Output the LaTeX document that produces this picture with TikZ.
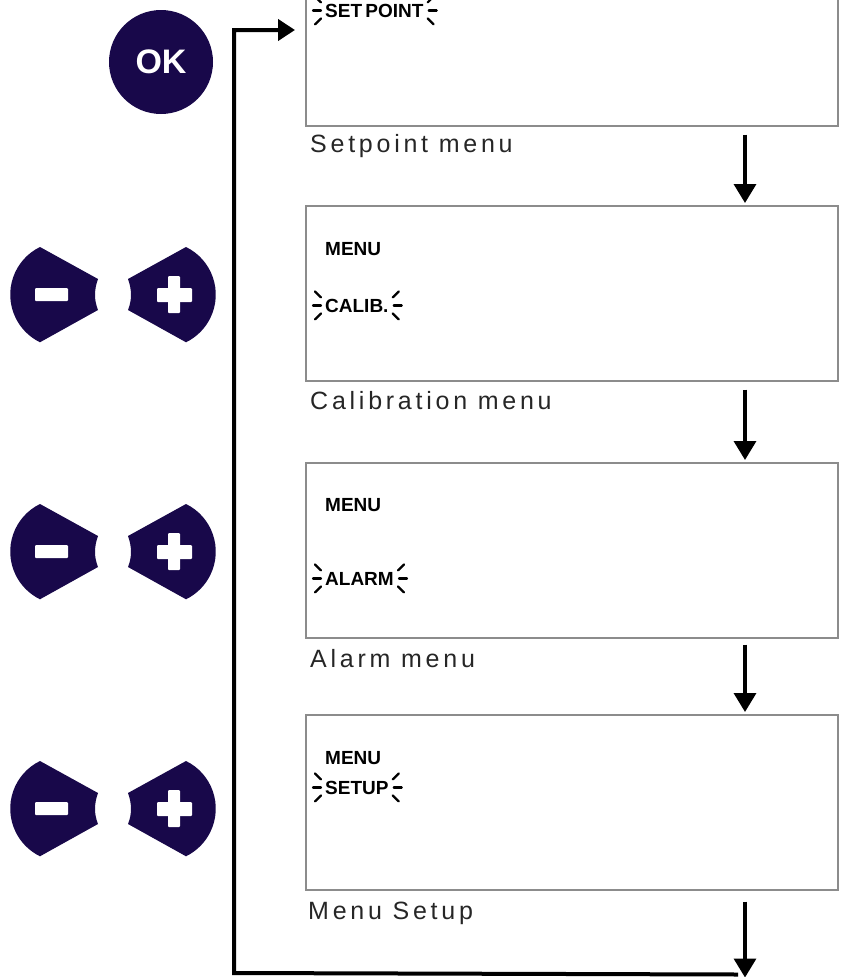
\documentclass[tikz,border=0pt]{standalone}
\usepackage{fontspec}
\setmainfont{Liberation Sans}
\newfontfamily\menufont[LetterSpace=15]{Liberation Sans}
\usetikzlibrary{arrows.meta}
\definecolor{keyblue}{RGB}{24,8,74}
\begin{document}
\begin{tikzpicture}%
	[x=1pt, y=-1pt,
	screen/.style={draw=black!45, line width=1.5pt, minimum width=532pt, minimum height=175pt, inner sep=0pt, anchor=north west},
	lcd/.style={font=\fontsize{19}{21}\selectfont\bfseries, inner sep=0pt, anchor=base west},
	caption/.style={font=\menufont\fontsize{25}{30}\selectfont, text=black!85, inner sep=0pt, anchor=base west},
	ray/.style={line width=2.2pt, line cap=round},
	flow/.style={line width=3.5pt, -{Triangle[width=22pt,length=19pt]}},
	loopline/.style={line width=4pt, -{Triangle[width=21pt,length=17pt]}},
	key/.style={fill=keyblue},
	glyph/.style={fill=white, rounded corners=1pt}]
	%
	\useasboundingbox (0,0) rectangle (843,977);
	%%
	%% Drawing the screens
	%%
	\node[screen] (box1) at (305,-50) {};
	\node[screen] (box2) at (305,205) {};
	\node[screen] (box3) at (305,462) {};
	\node[screen] (box4) at (305,714) {};
	%%
	%% Texts on the screens
	%%
	\node[lcd] (setpt) at (325,17) {SET\hspace{-2pt} POINT};
	\node[lcd] (menu2) at (325,255) {MENU};
	\node[lcd] (calib) at (325,312) {CALIB.};
	\node[lcd] (menu3) at (325,511) {MENU};
	\node[lcd] (alarm) at (325,585) {ALARM};
	\node[lcd] (menu4) at (325,764) {MENU};
	\node[lcd] (setup) at (325,794) {SETUP};
	%%
	%% Blinking marks
	%%
	\foreach \n in {setpt,calib,alarm,setup}{
		\draw[ray] ([xshift=-4pt]\n.west) -- ++(-8,0);
		\draw[ray] ([xshift=-4pt,yshift=8pt]\n.west) -- ++(-6,-6);
		\draw[ray] ([xshift=-4pt,yshift=-8pt]\n.west) -- ++(-6,6);
		\draw[ray] ([xshift=5pt]\n.east) -- ++(8,0);
		\draw[ray] ([xshift=4pt,yshift=8pt]\n.east) -- ++(6,-6);
		\draw[ray] ([xshift=4pt,yshift=-8pt]\n.east) -- ++(6,6);
	}
	%%
	%% Captions
	%%
	\node[caption] (cap1) at ([xshift=5pt,yshift=-26pt]box1.south west) {Setpoint menu};
	\node[caption] (cap2) at ([xshift=5pt,yshift=-28pt]box2.south west) {Calibration menu};
	\node[caption] (cap3) at ([xshift=5pt,yshift=-29pt]box3.south west) {Alarm menu};
	\node[caption] (cap4) at ([xshift=3pt,yshift=-29pt]box4.south west) {Menu Setup};
	%%
	%% Arrows between the screens
	%%
	\draw[flow] ([xshift=440pt,yshift=-8pt]box1.south west) -- ([xshift=440pt,yshift=2pt]box2.north west);
	\draw[flow] ([xshift=440pt,yshift=-8pt]box2.south west) -- ([xshift=440pt,yshift=2pt]box3.north west);
	\draw[flow] ([xshift=440pt,yshift=-6pt]box3.south west) -- ([xshift=440pt,yshift=2pt]box4.north west);
	\draw[flow] ([xshift=440pt,yshift=-11pt]box4.south west) -- ++(0,76);
	%%
	%% Going back to the first screen
	%%
	\coordinate (corner) at (234,973);
	\draw[loopline] ([xshift=433pt,yshift=-84pt]box4.south west) -- (corner) |- ([xshift=-10pt,yshift=-80pt]box1.north west);
	%%
	%% Drawing the keys
	%%
	\node[circle, fill=keyblue, minimum size=104pt, inner sep=0pt, text=white, font=\fontsize{34}{34}\selectfont\bfseries] (ok) at (161,62) {OK};
	\foreach \yc in {295,552,809}{
		\fill[key] (40,\yc-48) arc[start angle=244, end angle=116, radius=53] -- (98,\yc+15) .. controls (94,\yc+5) and (94,\yc-5) .. (98,\yc-16) -- cycle;
		\fill[key] (186,\yc-48) arc[start angle=-64, end angle=64, radius=53] -- (128,\yc+15) .. controls (132,\yc+5) and (132,\yc-5) .. (128,\yc-16) -- cycle;
		\fill[glyph] (35,\yc-7) rectangle (68,\yc+6);
		\fill[glyph] (157,\yc-7) rectangle (192,\yc+7);
		\fill[glyph] (168,\yc-19) rectangle (180,\yc+18);
	}
	%%
\end{tikzpicture}
\end{document}
